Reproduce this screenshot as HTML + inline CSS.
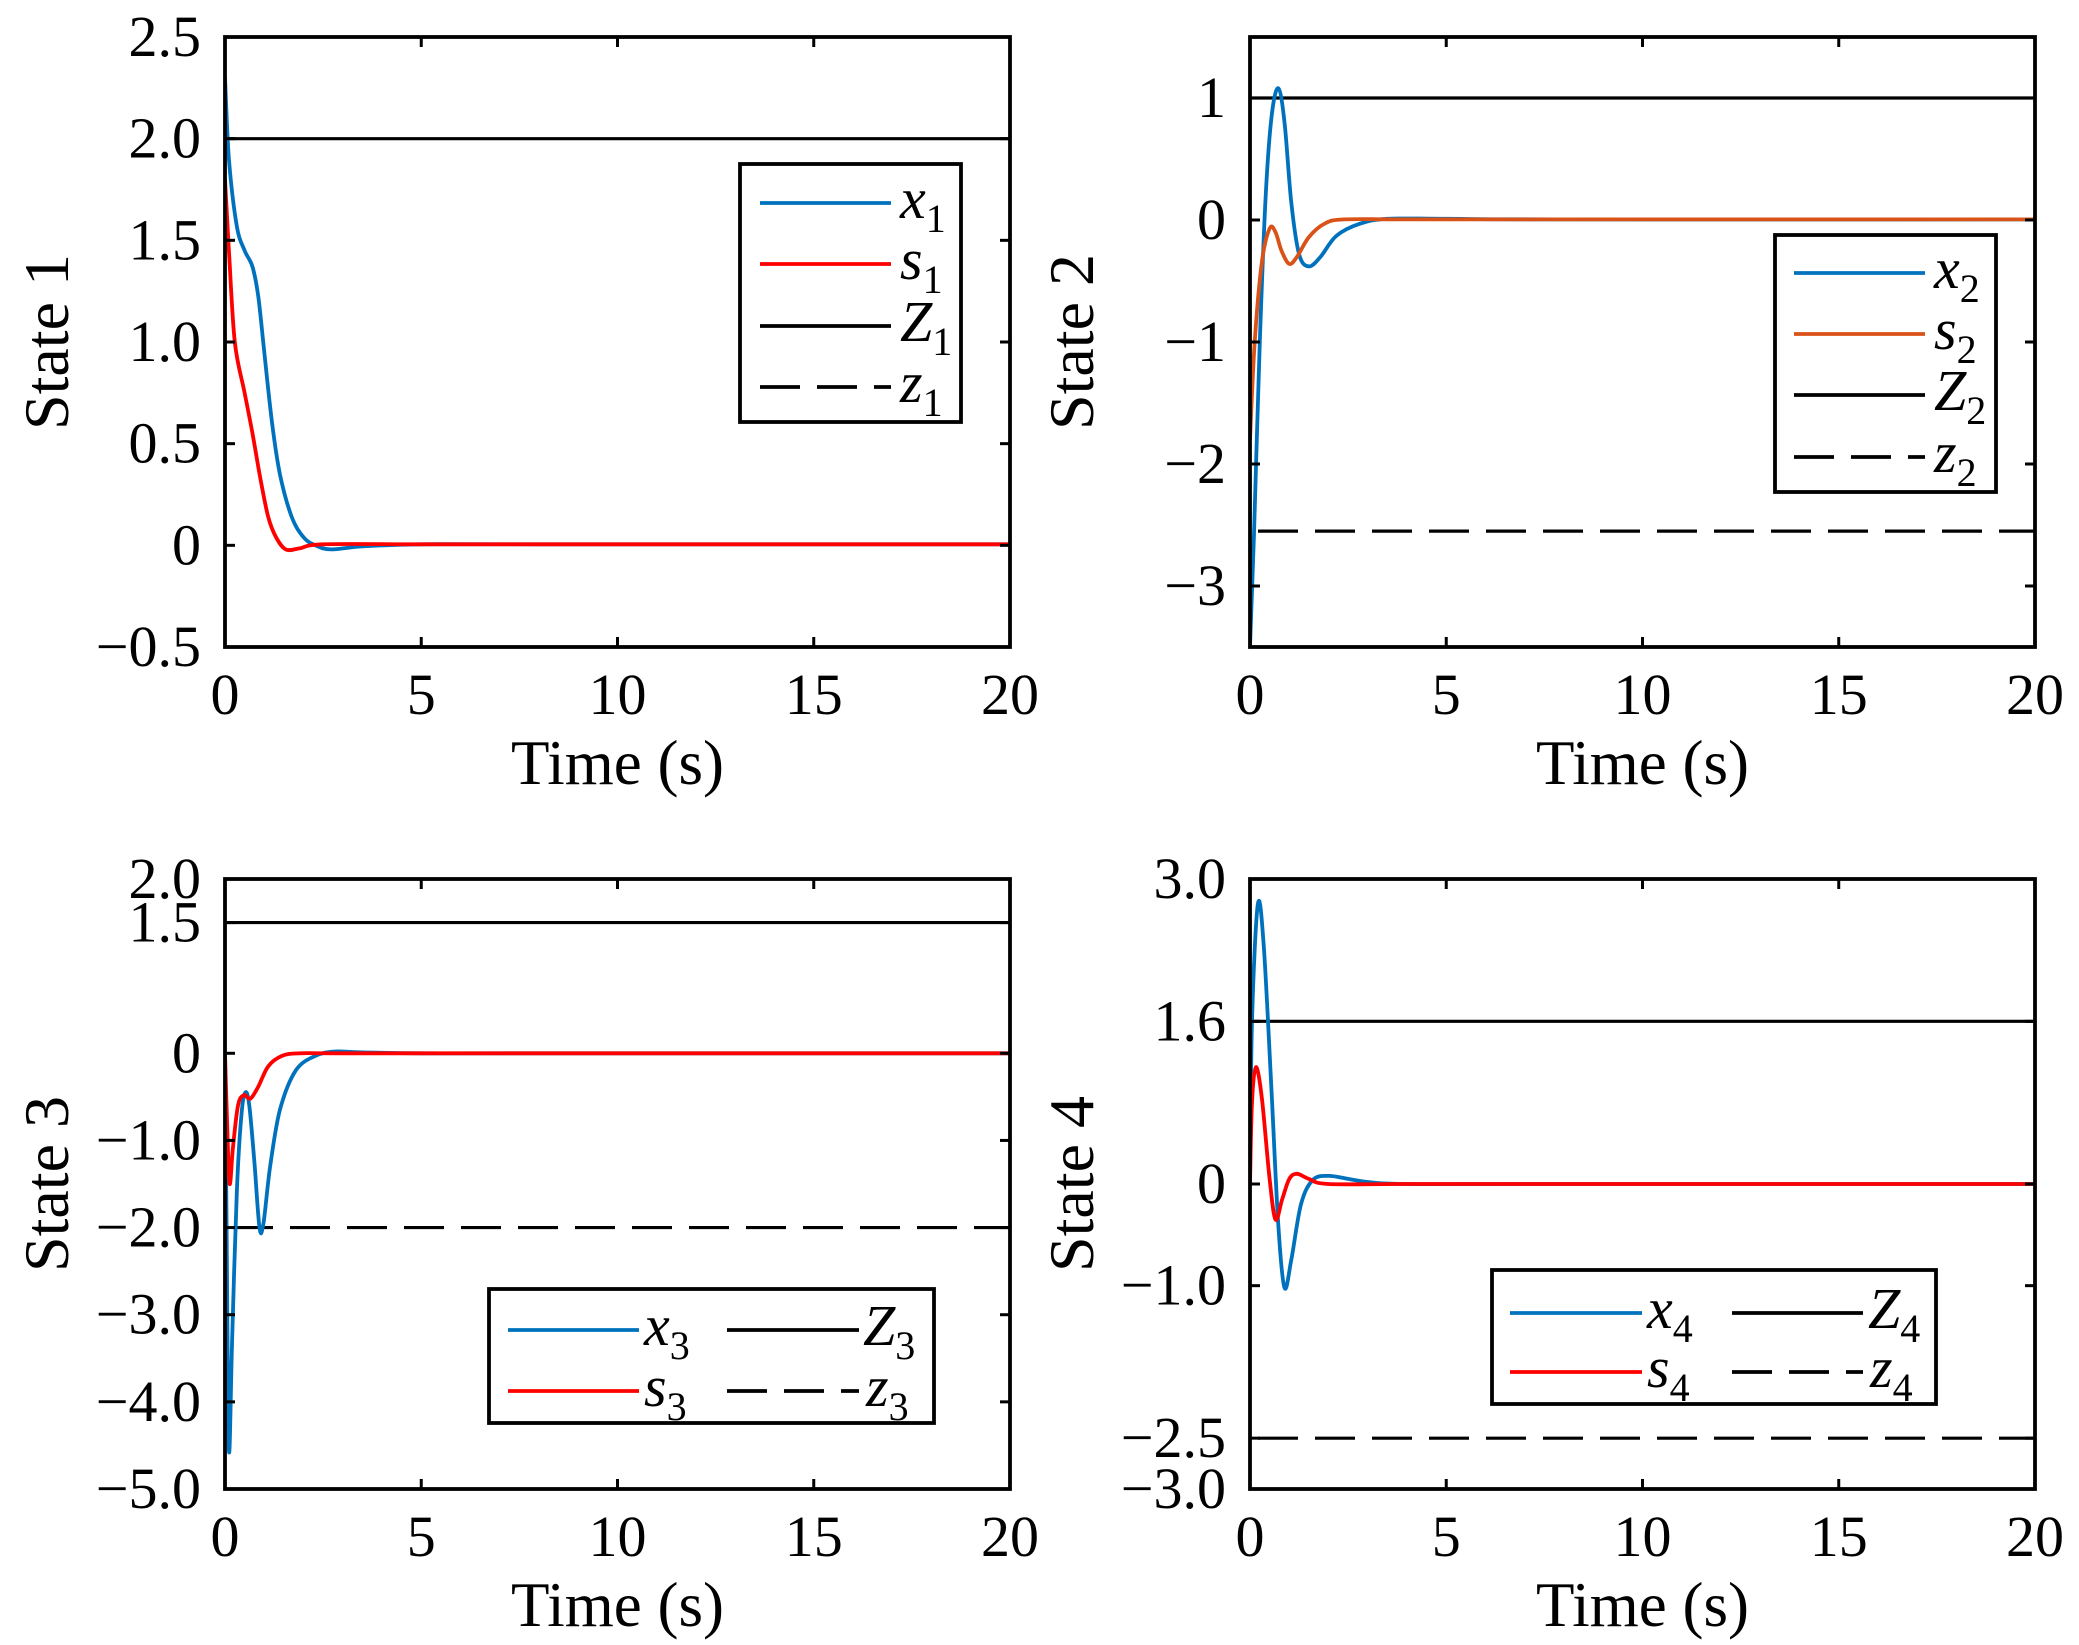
<!DOCTYPE html>
<html><head><meta charset="utf-8">
<style>
html,body{margin:0;padding:0;background:#fff;}
svg{display:block;}
text{font-family:"Liberation Serif",serif;fill:#000;}
</style></head>
<body>
<svg id="s" width="2079" height="1645" viewBox="0 0 2079 1645" xmlns="http://www.w3.org/2000/svg"></svg>
<script>
const NS="http://www.w3.org/2000/svg";
const svg=document.getElementById('s');
function el(tag,attrs,txt){const e=document.createElementNS(NS,tag);for(const k in attrs)e.setAttribute(k,attrs[k]);if(txt!==undefined)e.textContent=txt;svg.appendChild(e);return e;}
function crPath(pts){
  let d="M"+pts[0][0].toFixed(1)+","+pts[0][1].toFixed(1);
  for(let i=0;i<pts.length-1;i++){
    const p0=pts[Math.max(i-1,0)],p1=pts[i],p2=pts[i+1],p3=pts[Math.min(i+2,pts.length-1)];
    const c1=[p1[0]+(p2[0]-p0[0])/6,p1[1]+(p2[1]-p0[1])/6];
    const c2=[p2[0]-(p3[0]-p1[0])/6,p2[1]-(p3[1]-p1[1])/6];
    d+=" C"+c1[0].toFixed(1)+","+c1[1].toFixed(1)+" "+c2[0].toFixed(1)+","+c2[1].toFixed(1)+" "+p2[0].toFixed(1)+","+p2[1].toFixed(1);
  }
  return d;
}
const BLUE="#0072bd",RED="#ff0000",ORANGE="#d95319";
const FS=58;
function panel(o){
  const {x0,x1,y0,y1,ymin,ymax}=o;
  const X=t=>x0+t/20*(x1-x0);
  const Y=v=>y1-(v-ymin)/(ymax-ymin)*(y1-y0);
  const cid="c"+x0+y0;
  const cp=document.createElementNS(NS,'clipPath');cp.setAttribute('id',cid);
  const r=document.createElementNS(NS,'rect');r.setAttribute('x',x0);r.setAttribute('y',y0);r.setAttribute('width',x1-x0);r.setAttribute('height',y1-y0);cp.appendChild(r);svg.appendChild(cp);
  el('line',{x1:x0,x2:x1,y1:Y(o.Z),y2:Y(o.Z),stroke:'#000','stroke-width':3.2});
  if(o.z!==null) el('line',{x1:x0,x2:x1,y1:Y(o.z),y2:Y(o.z),stroke:'#000','stroke-width':3.2,'stroke-dasharray':'40,17','stroke-dashoffset':'-8'});
  o.curves.forEach(c=>{
    const pts=c.p.map(q=>[X(q[0]),Y(q[1])]);
    el('path',{d:crPath(pts),fill:'none',stroke:c.col,'stroke-width':3.8,'clip-path':'url(#'+cid+')','stroke-linejoin':'round'});
  });
  el('rect',{x:x0,y:y0,width:x1-x0,height:y1-y0,fill:'none',stroke:'#000','stroke-width':3.8});
  [0,5,10,15,20].forEach(t=>{
    const x=X(t);
    el('line',{x1:x,x2:x,y1:y1,y2:y1-10,stroke:'#000','stroke-width':3});
    el('line',{x1:x,x2:x,y1:y0,y2:y0+10,stroke:'#000','stroke-width':3});
    el('text',{x:x,y:y1+67,'font-size':FS,'text-anchor':'middle'},String(t));
  });
  o.yt.forEach(([v,l])=>{
    const y=Y(v);
    el('line',{x1:x0,x2:x0+10,y1:y,y2:y,stroke:'#000','stroke-width':3});
    el('line',{x1:x1,x2:x1-10,y1:y,y2:y,stroke:'#000','stroke-width':3});
    el('text',{x:x0-24,y:y+19,'font-size':FS,'text-anchor':'end'},l);
  });
  el('text',{x:(x0+x1)/2,y:y1+137,'font-size':63,'text-anchor':'middle'},'Time (s)');
  const ly=(y0+y1)/2;
  el('text',{x:0,y:0,'font-size':64,'text-anchor':'middle',transform:`translate(${x0-157},${ly}) rotate(-90)`},o.ylabel);
}
function legendEntry(x1,x2,y,col,dash,name,sub,lx){
  const a={x1:x1,x2:x2,y1:y,y2:y,stroke:col,'stroke-width':3.8};
  if(dash)a['stroke-dasharray']='40,17';
  el('line',a);
  const t=el('text',{x:lx,y:y+15,'font-size':58});
  const ts=document.createElementNS(NS,'tspan');ts.setAttribute('font-style','italic');ts.textContent=name;t.appendChild(ts);
  const ss=document.createElementNS(NS,'tspan');ss.setAttribute('font-size','40');ss.setAttribute('dy','14');ss.textContent=sub;t.appendChild(ss);
}
panel({x0:225,x1:1010,y0:37,y1:647,ymin:-0.5,ymax:2.5,Z:2.0,z:null,ylabel:'State 1',
 yt:[[2.5,'2.5'],[2.0,'2.0'],[1.5,'1.5'],[1.0,'1.0'],[0.5,'0.5'],[0,'0'],[-0.5,'\u22120.5']],
 curves:[
  {col:BLUE,p:[[0,2.3],[0.1,1.9],[0.3,1.57],[0.5,1.45],[0.7,1.37],[0.85,1.22],[1.0,0.95],[1.2,0.6],[1.4,0.35],[1.7,0.14],[2.0,0.04],[2.3,0.0],[2.7,-0.02],[3.5,-0.005],[5,0.005],[8,0.005],[20,0.005]]},
  {col:RED,p:[[0,1.8],[0.1,1.45],[0.25,1.0],[0.5,0.75],[0.7,0.55],[0.9,0.33],[1.1,0.14],[1.3,0.04],[1.55,-0.02],[1.9,-0.015],[2.5,0.005],[5,0.005],[8,0.005],[20,0.005]]}
 ]});
panel({x0:1250,x1:2035,y0:37,y1:647,ymin:-3.5,ymax:1.5,Z:1,z:-2.55,ylabel:'State 2',
 yt:[[1,'1'],[0,'0'],[-1,'\u22121'],[-2,'\u22122'],[-3,'\u22123']],
 curves:[
  {col:BLUE,p:[[0,-3.5],[0.1,-2.6],[0.25,-1.0],[0.4,0.2],[0.55,0.85],[0.72,1.08],[0.88,0.8],[1.05,0.15],[1.25,-0.28],[1.5,-0.38],[1.8,-0.3],[2.2,-0.13],[2.8,-0.03],[3.5,0.01],[5,0.01],[8,0.005],[20,0.005]]},
  {col:ORANGE,p:[[0,-1.8],[0.12,-1.0],[0.3,-0.35],[0.5,-0.07],[0.65,-0.1],[0.8,-0.25],[1.0,-0.36],[1.2,-0.3],[1.5,-0.14],[1.9,-0.03],[2.4,0.005],[4,0.005],[8,0.005],[20,0.005]]}
 ]});
panel({x0:225,x1:1010,y0:879,y1:1489,ymin:-5,ymax:2,Z:1.5,z:-2,ylabel:'State 3',
 yt:[[2,'2.0'],[1.5,'1.5'],[0,'0'],[-1,'\u22121.0'],[-2,'\u22122.0'],[-3,'\u22123.0'],[-4,'\u22124.0'],[-5,'\u22125.0']],
 curves:[
  {col:BLUE,p:[[0,0],[0.04,-2.0],[0.1,-4.55],[0.18,-3.3],[0.3,-1.6],[0.42,-0.7],[0.52,-0.45],[0.62,-0.6],[0.75,-1.25],[0.88,-2.0],[0.98,-1.95],[1.15,-1.3],[1.4,-0.65],[1.8,-0.2],[2.3,-0.03],[2.8,0.02],[3.5,0.01],[5,0],[8,0],[20,0]]},
  {col:RED,p:[[0,0],[0.06,-0.9],[0.12,-1.5],[0.2,-1.1],[0.33,-0.6],[0.48,-0.48],[0.65,-0.52],[0.85,-0.38],[1.1,-0.15],[1.45,-0.03],[1.9,0],[3,0],[8,0],[20,0]]}
 ]});
panel({x0:1250,x1:2035,y0:879,y1:1489,ymin:-3,ymax:3,Z:1.6,z:-2.5,ylabel:'State 4',
 yt:[[3,'3.0'],[1.6,'1.6'],[0,'0'],[-1,'\u22121.0'],[-2.5,'\u22122.5'],[-3,'\u22123.0']],
 curves:[
  {col:BLUE,p:[[0,0],[0.05,1.6],[0.2,2.75],[0.35,2.35],[0.55,0.9],[0.72,-0.4],[0.88,-1.02],[1.05,-0.75],[1.3,-0.2],[1.6,0.04],[2.0,0.08],[2.5,0.05],[3.0,0.02],[4,0],[8,0],[20,0]]},
  {col:RED,p:[[0,0],[0.05,0.8],[0.15,1.15],[0.3,0.85],[0.5,0.05],[0.65,-0.35],[0.82,-0.15],[1.0,0.05],[1.2,0.1],[1.5,0.05],[2.0,0],[4,0],[8,0],[20,0]]}
 ]});
el('rect',{x:740,y:164,width:221,height:258,fill:'#fff',stroke:'#000','stroke-width':3.8});
legendEntry(760,891,203,BLUE,false,'x','1',900);
legendEntry(760,891,264,RED,false,'s','1',900);
legendEntry(760,891,326,'#000',false,'Z','1',900);
legendEntry(760,891,387,'#000',true,'z','1',900);
el('rect',{x:1775,y:235,width:221,height:257,fill:'#fff',stroke:'#000','stroke-width':3.8});
legendEntry(1794,1925,273,BLUE,false,'x','2',1934);
legendEntry(1794,1925,334,ORANGE,false,'s','2',1934);
legendEntry(1794,1925,395,'#000',false,'Z','2',1934);
legendEntry(1794,1925,457,'#000',true,'z','2',1934);
el('rect',{x:489,y:1289,width:445,height:134,fill:'#fff',stroke:'#000','stroke-width':3.8});
legendEntry(508,639,1330,BLUE,false,'x','3',644);
legendEntry(508,639,1391,RED,false,'s','3',644);
legendEntry(727,859,1330,'#000',false,'Z','3',863);
legendEntry(727,859,1391,'#000',true,'z','3',866);
el('rect',{x:1492,y:1270,width:444,height:134,fill:'#fff',stroke:'#000','stroke-width':3.8});
legendEntry(1510,1642,1313,BLUE,false,'x','4',1647);
legendEntry(1510,1642,1372,RED,false,'s','4',1647);
legendEntry(1732,1863,1313,'#000',false,'Z','4',1868);
legendEntry(1732,1863,1372,'#000',true,'z','4',1870);
</script>
</body></html>
